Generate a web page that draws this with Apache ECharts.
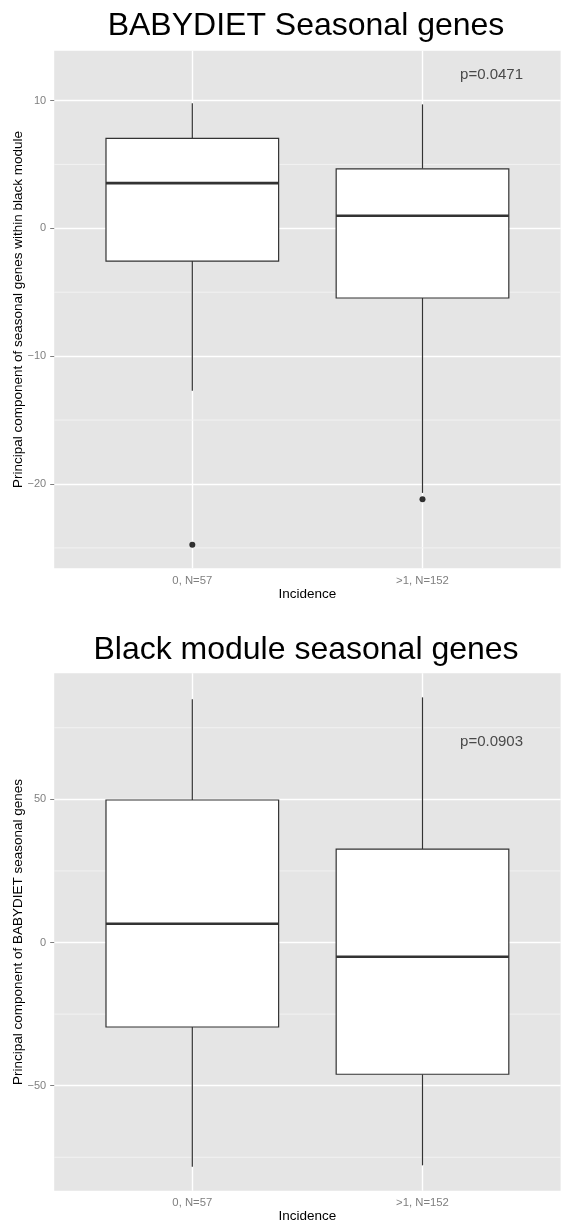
<!DOCTYPE html>
<html><head><meta charset="utf-8">
<script src="https://cdn.jsdelivr.net/npm/echarts@6/dist/echarts.min.js"></script>
<style>html,body{margin:0;padding:0;background:#fff}#c{width:563px;height:1231px}</style>
</head><body><div id="c"></div>
<script>
// ---------- shared ----------
const categories = ['0, N=57', '>1, N=152'];
const categoryPositions = [1, 2];
const xAxisTitle = 'Incidence';

// ---------- panel 1 ----------
const p1Title = 'BABYDIET Seasonal genes';
const p1YTitle = 'Principal component of seasonal genes within black module';
const p1Low = [-12.7, -20.7];
const p1Q1 = [-2.56, -5.45];
const p1Median = [3.54, 0.99];
const p1Q3 = [7.04, 4.66];
const p1High = [9.78, 9.70];
const p1Outliers = [[1, -24.76], [2, -21.2]];
const p1Ticks = [-20, -10, 0, 10];
const p1MinorTicks = [-25, -15, -5, 5];
const p1PValue = 'p=0.0471';
const p1PValuePos = [2.3, 12];

// ---------- panel 2 ----------
const p2Title = 'Black module seasonal genes';
const p2YTitle = 'Principal component of BABYDIET seasonal genes';
const p2Low = [-78.3, -77.8];
const p2Q1 = [-29.5, -46.0];
const p2Median = [6.56, -4.96];
const p2Q3 = [49.76, 32.6];
const p2High = [84.9, 85.6];
const p2Outliers = [];
const p2Ticks = [-50, 0, 50];
const p2MinorTicks = [-75, -25, 25, 75];
const p2PValue = 'p=0.0903';
const p2PValuePos = [2.3, 70];

const FONT = '"Liberation Sans", Arial, sans-serif';
const BOX_W = 0.75;
const fmtNum = v => String(v).replace('-', '\u2212');

const GRID1 = { left: 54.2, top: 50.7, width: 506.4, height: 517.6 };
const GRID2 = { left: 54.2, top: 673.3, width: 506.4, height: 517.4 };

function boxData(low, q1, med, q3, high) {
  return categoryPositions.map((x, i) => [x, low[i], q1[i], med[i], q3[i], high[i]]);
}

function renderBox(params, api) {
  const x = api.value(0);
  const pLow = api.coord([x, api.value(1)]);
  const pQ1 = api.coord([x, api.value(2)]);
  const pMed = api.coord([x, api.value(3)]);
  const pQ3 = api.coord([x, api.value(4)]);
  const pHigh = api.coord([x, api.value(5)]);
  const halfW = api.size([BOX_W, 0])[0] / 2;
  const cx = pLow[0];
  const stroke = '#333333';
  return {
    type: 'group',
    children: [
      { type: 'line', shape: { x1: cx, y1: pHigh[1], x2: cx, y2: pQ3[1] }, style: { stroke, lineWidth: 1.2 } },
      { type: 'line', shape: { x1: cx, y1: pQ1[1], x2: cx, y2: pLow[1] }, style: { stroke, lineWidth: 1.2 } },
      { type: 'rect', shape: { x: cx - halfW, y: pQ3[1], width: 2 * halfW, height: pQ1[1] - pQ3[1] },
        style: { fill: '#ffffff', stroke, lineWidth: 1.2 } },
      { type: 'line', shape: { x1: cx - halfW, y1: pMed[1], x2: cx + halfW, y2: pMed[1] }, style: { stroke, lineWidth: 2.6 } }
    ]
  };
}

function renderMinor(params, api) {
  const cs = params.coordSys;
  const y = api.coord([api.value(0), api.value(1)])[1];
  return { type: 'line', shape: { x1: cs.x, y1: y, x2: cs.x + cs.width, y2: y },
    style: { stroke: '#f2f2f2', lineWidth: 1 } };
}

function xAxisFor(gi) {
  return {
    type: 'value', gridIndex: gi, min: 0.4, max: 2.6,
    name: xAxisTitle, nameLocation: 'middle', nameGap: 18,
    nameTextStyle: { fontSize: 13.5, color: '#000', fontFamily: FONT },
    axisLine: { show: false },
    axisTick: { show: true, length: 4, lineStyle: { color: '#7f7f7f', width: 1 }, customValues: categoryPositions },
    axisLabel: { show: true, margin: 7, fontSize: 11.3, color: '#7f7f7f', fontFamily: FONT,
      customValues: categoryPositions, formatter: v => categories[Math.round(v) - 1] || '' },
    splitLine: { show: true, lineStyle: { color: '#ffffff', width: 1.4 } }
  };
}

function yAxisFor(gi, min, max, ticks) {
  return {
    type: 'value', gridIndex: gi, min, max,
    axisLine: { show: false },
    axisTick: { show: true, length: 4, lineStyle: { color: '#7f7f7f', width: 1 }, customValues: ticks },
    axisLabel: { show: true, margin: 8, fontSize: 11, color: '#7f7f7f', fontFamily: FONT,
      customValues: ticks, formatter: v => fmtNum(v) },
    splitLine: { show: true, lineStyle: { color: '#ffffff', width: 1.4 } }
  };
}

function yTitle(text, g) {
  return {
    type: 'text', x: 18, y: g.top + g.height / 2, rotation: Math.PI / 2, silent: true,
    style: { text, align: 'center', verticalAlign: 'middle', fontSize: 13.5, fill: '#000', fontFamily: FONT }
  };
}

function panelSeries(gi, outliers, minor, pText, pPos, boxes) {
  return [
    {
      type: 'custom', xAxisIndex: gi, yAxisIndex: gi, z: 1, silent: true,
      renderItem: renderMinor, encode: { x: 0, y: 1 },
      data: minor.map(v => [0.4, v])
    },
    {
      type: 'custom', xAxisIndex: gi, yAxisIndex: gi, z: 2, silent: true,
      renderItem: renderBox, encode: { x: 0, y: [1, 2, 3, 4, 5] },
      data: boxes
    },
    {
      type: 'scatter', xAxisIndex: gi, yAxisIndex: gi, z: 3,
      symbol: 'circle', symbolSize: 6, itemStyle: { color: '#000' },
      data: outliers, silent: true
    },
    {
      type: 'scatter', xAxisIndex: gi, yAxisIndex: gi, z: 3,
      symbolSize: 0, silent: true,
      data: [pPos],
      label: { show: true, position: 'inside', formatter: pText, fontSize: 15, color: '#222', fontFamily: FONT }
    }
  ];
}

const chart = echarts.init(document.getElementById('c'), null, { renderer: 'canvas' });
chart.setOption({
  animation: false,
  backgroundColor: '#ffffff',
  title: [
    { text: p1Title, left: 306, top: 26, textAlign: 'center', textVerticalAlign: 'middle', padding: 0,
      textStyle: { fontSize: 32, fontWeight: 'normal', color: '#000', fontFamily: FONT } },
    { text: p2Title, left: 306, top: 650, textAlign: 'center', textVerticalAlign: 'middle', padding: 0,
      textStyle: { fontSize: 32, fontWeight: 'normal', color: '#000', fontFamily: FONT } }
  ],
  graphic: [yTitle(p1YTitle, GRID1), yTitle(p2YTitle, GRID2)],
  grid: [
    Object.assign({ show: true, backgroundColor: '#e5e5e5', borderWidth: 0, containLabel: false }, GRID1),
    Object.assign({ show: true, backgroundColor: '#e5e5e5', borderWidth: 0, containLabel: false }, GRID2)
  ],
  xAxis: [xAxisFor(0), xAxisFor(1)],
  yAxis: [
    yAxisFor(0, -26.6, 13.9, p1Ticks),
    yAxisFor(1, -86.66, 94.0, p2Ticks)
  ],
  series: [
    ...panelSeries(0, p1Outliers, p1MinorTicks, p1PValue, p1PValuePos, boxData(p1Low, p1Q1, p1Median, p1Q3, p1High)),
    ...panelSeries(1, p2Outliers, p2MinorTicks, p2PValue, p2PValuePos, boxData(p2Low, p2Q1, p2Median, p2Q3, p2High))
  ]
});
</script>
</body></html>
